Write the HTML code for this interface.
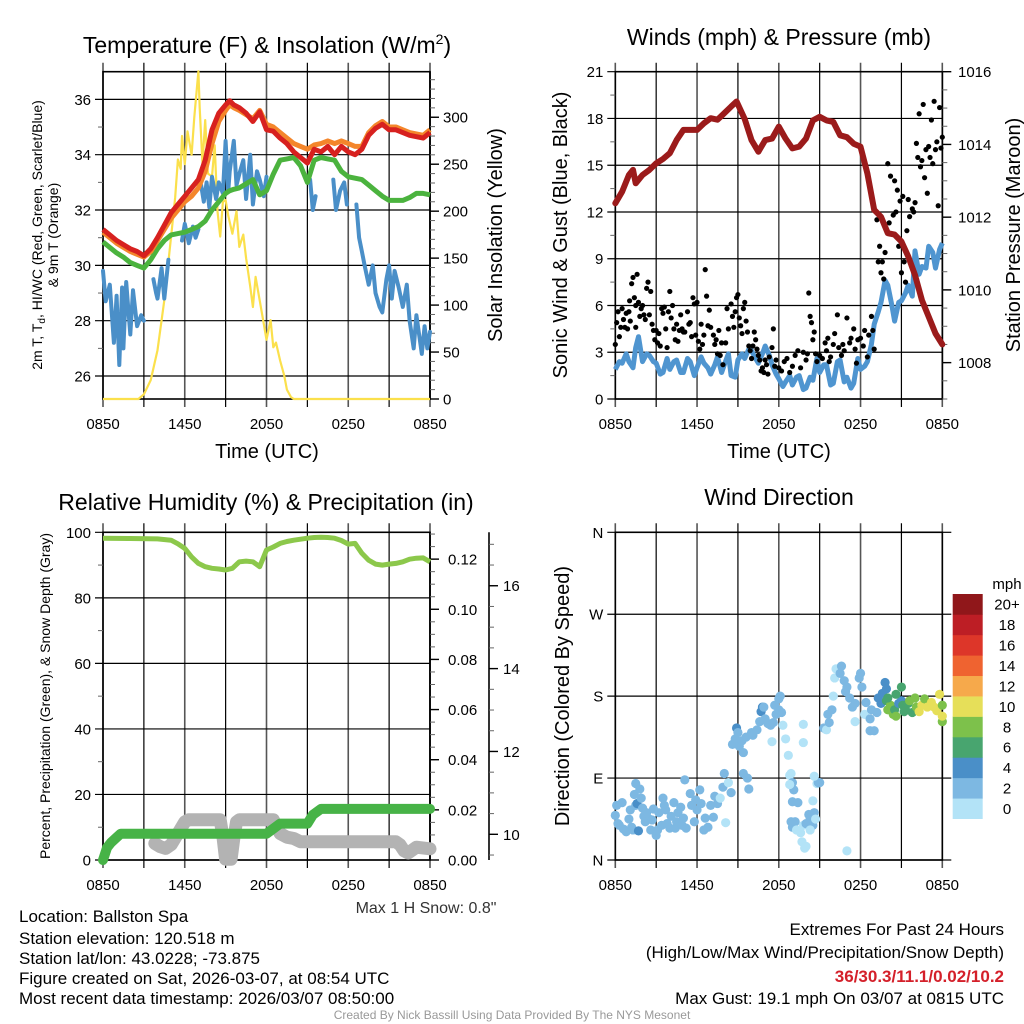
<!DOCTYPE html>
<html><head><meta charset="utf-8">
<style>
html,body{margin:0;padding:0;background:#fff;}
svg{display:block;font-family:"Liberation Sans",Arial,sans-serif;}
</style></head>
<body>
<svg id="root" width="1024" height="1024" viewBox="0 0 1024 1024" xmlns="http://www.w3.org/2000/svg">
<rect width="1024" height="1024" fill="#fff"/>
<g id="p1"></g>
<g id="p2"></g>
<g id="p3"></g>
<g id="p4"></g>

<text x="267" y="53" font-size="23" text-anchor="middle">Temperature (F) &amp; Insolation (W/m<tspan dy="-9" font-size="14">2</tspan><tspan dy="9">)</tspan></text>
<text x="779" y="45" font-size="23" text-anchor="middle">Winds (mph) &amp; Pressure (mb)</text>
<text x="266" y="510" font-size="23" text-anchor="middle">Relative Humidity (%) &amp; Precipitation (in)</text>
<text x="779" y="505" font-size="23" text-anchor="middle">Wind Direction</text>

<text x="267" y="458" font-size="20" text-anchor="middle">Time (UTC)</text>
<text x="779" y="458" font-size="20" text-anchor="middle">Time (UTC)</text>

<text transform="translate(42,235) rotate(-90)" font-size="14" text-anchor="middle">2m T, T<tspan dy="3" font-size="10">d</tspan><tspan dy="-3">, HI/WC (Red, Green, Scarlet/Blue)</tspan></text>
<text transform="translate(58,235) rotate(-90)" font-size="14" text-anchor="middle">&amp; 9m T (Orange)</text>
<text transform="translate(502,235) rotate(-90)" font-size="20" text-anchor="middle">Solar Insolation (Yellow)</text>
<text transform="translate(567,235) rotate(-90)" font-size="20" text-anchor="middle">Sonic Wind &amp; Gust (Blue, Black)</text>
<text transform="translate(1020,235) rotate(-90)" font-size="20" text-anchor="middle">Station Pressure (Maroon)</text>
<text transform="translate(50,696) rotate(-90)" font-size="14" text-anchor="middle">Percent, Precipitation (Green), &amp; Snow Depth (Gray)</text>
<text transform="translate(569,696) rotate(-90)" font-size="20" text-anchor="middle">Direction (Colored By Speed)</text>

<text x="426" y="913" font-size="16" text-anchor="middle" fill="#333">Max 1 H Snow: 0.8"</text>
<g font-size="17">
<text x="19" y="922">Location: Ballston Spa</text>
<text x="19" y="944">Station elevation: 120.518 m</text>
<text x="19" y="964">Station lat/lon: 43.0228; -73.875</text>
<text x="19" y="984">Figure created on Sat, 2026-03-07, at 08:54 UTC</text>
<text x="19" y="1004">Most recent data timestamp: 2026/03/07 08:50:00</text>
</g>
<g font-size="17" text-anchor="end">
<text x="1004" y="935">Extremes For Past 24 Hours</text>
<text x="1004" y="958">(High/Low/Max Wind/Precipitation/Snow Depth)</text>
<text x="1004" y="982" fill="#d4202a" font-weight="bold">36/30.3/11.1/0.02/10.2</text>
<text x="1004" y="1004">Max Gust: 19.1 mph On 03/07 at 0815 UTC</text>
</g>
<text x="512" y="1019" font-size="12" fill="#999" text-anchor="middle">Created By Nick Bassill Using Data Provided By The NYS Mesonet</text>
</svg>

<script>
// ---------- DATA ----------
const xTickLabels = ["0850","1450","2050","0250","0850"];
const tempTime = [0,0.5,1,1.5,2,2.5,3,3.5,4,4.5,5,5.5,6,6.5,7,7.5,8,8.5,9,9.3,9.6,10,10.5,11,11.5,12,12.5,13,13.5,14,14.5,15,15.5,16,16.5,17,17.5,18,18.5,19,19.5,20,20.5,21,21.5,22,22.5,23,23.5,24];
const tempRed = [31.3,31.1,30.9,30.75,30.6,30.5,30.35,30.6,31.0,31.45,31.9,32.2,32.5,32.8,33.1,33.8,34.9,35.5,35.8,35.95,35.8,35.7,35.5,35.2,35.55,34.9,34.85,34.6,34.4,34.1,33.9,33.7,34.2,34.1,34.3,34.0,34.3,34.1,34.0,34.2,34.7,34.95,35.1,34.9,34.9,34.8,34.7,34.65,34.6,34.8];
const tempOrange = [31.2,31.0,30.8,30.65,30.5,30.4,30.3,30.5,30.9,31.3,31.7,32.0,32.3,32.5,32.8,33.4,34.4,35.2,35.6,35.8,35.7,35.6,35.45,35.3,35.6,35.1,35.0,34.8,34.6,34.4,34.3,34.2,34.35,34.4,34.5,34.4,34.5,34.4,34.3,34.3,34.8,35.05,35.2,35.0,35.0,34.9,34.8,34.75,34.7,34.9];
const tempGreen = [30.85,30.65,30.45,30.3,30.1,30.0,29.9,30.2,30.6,30.9,31.1,31.15,31.2,31.3,31.4,31.6,32.0,32.3,32.6,32.7,32.75,32.8,32.95,33.1,32.55,32.7,33.3,33.8,33.85,33.9,33.6,33.0,33.8,33.9,33.85,33.8,33.4,33.2,33.15,33.1,32.9,32.7,32.5,32.35,32.35,32.35,32.45,32.6,32.6,32.55];
const chillTime = [0,0.2,0.5,0.8,1,1.2,1.4,1.5,1.7,2,2.2,2.5,2.8,3,null,3.7,3.9,4,4.3,4.5,4.8,null,5.8,6,6.3,6.6,6.8,7,null,7.2,7.4,7.6,7.8,8,8.3,8.5,8.8,9,9.2,9.3,9.6,9.8,10,10.3,10.5,10.8,11,11.3,11.5,11.8,12,null,15.2,15.4,15.6,null,16.9,17.1,17.4,17.7,17.9,null,18.6,18.8,19,19.2,19.5,19.8,20,20.3,20.5,20.8,21,21.2,21.4,21.7,22,22.3,22.5,22.8,23,23.2,23.4,23.6,23.8,24];
const chillVal = [29.8,28.7,29.3,27.2,28.9,26.4,29.2,27.0,29.4,27.5,29.1,27.8,28.2,28.0,null,29.5,29.0,28.8,29.9,28.8,30.2,null,30.9,31.5,30.8,31.4,31.0,31.3,null,32.9,32.3,33.0,32.1,33.2,32.4,33.0,32.6,34.5,32.7,33.4,34.5,32.9,33.3,33.8,32.4,34.0,32.2,33.4,33.1,32.5,33.2,null,33.1,32.0,32.5,null,33.1,32.0,32.7,33.0,32.2,null,32.2,31.0,30.5,30.0,29.3,30.0,29.0,28.5,28.3,29.5,30.0,28.8,29.8,29.2,28.5,29.3,28.0,27.0,28.2,27.5,26.8,27.8,27.0,27.6];
const solarTime = [0,2.6,3,3.5,4,4.5,5,5.3,5.5,5.7,5.8,6,6.2,6.5,6.7,7,7.1,7.3,7.5,7.7,8,8.2,8.4,8.6,8.8,9,9.2,9.5,9.8,10,10.3,10.5,10.8,11,11.2,11.5,11.8,12,12.3,12.5,12.7,13,13.3,13.5,13.8,14,24];
const solarVal = [0,0,5,20,52,105,173,215,255,245,280,250,285,260,300,349,310,250,297,240,237,270,200,173,210,212,195,176,200,162,175,150,120,98,130,105,80,63,84,55,60,41,25,10,2,0,0];

const windTime = [0,0.3,0.5,0.8,1,1.3,1.5,1.7,2,2.3,2.5,2.8,3,3.3,3.5,3.8,4,4.3,4.5,4.8,5,5.3,5.5,5.8,6,6.3,6.5,6.8,7,7.3,7.5,7.8,8,8.3,8.5,8.8,9,9.3,9.5,9.8,10,10.3,10.5,10.8,11,11.3,11.5,11.8,12,12.3,12.5,12.8,13,13.3,13.5,13.8,14,14.3,14.5,14.8,15,15.3,15.5,15.8,16,16.3,16.5,16.8,17,17.3,17.5,17.8,18,18.3,18.5,18.8,19,19.3,19.5,19.8,20,20.3,20.5,20.8,21,21.3,21.5,21.8,22,22.3,22.5,22.8,23,23.3,23.5,23.8,24];
const windVal = [1.9,2.4,2.3,2.9,2.4,2.0,3.3,4.0,2.4,2.9,2.8,2.4,2.3,1.6,1.7,2.6,1.9,2.4,2.5,1.7,1.7,2.6,2.4,1.5,2.0,2.7,2.3,2.0,1.6,2.2,2.7,1.7,2.2,2.9,1.5,1.4,2.5,2.9,2.6,3.2,3.1,2.6,2.3,2.9,3.4,2.8,2.2,1.6,1.3,0.8,1.1,1.5,0.9,1.4,1.5,0.6,0.7,1.4,1.2,2.6,1.7,2.2,2.2,0.9,1.0,2.4,2.5,1.1,1.4,0.7,1.0,2.6,1.9,2.1,2.4,3.5,4.8,5.6,6.2,7.6,7.3,6.0,5.0,6.2,6.3,6.8,7.3,6.6,9.5,8.0,8.5,8.4,9.8,9.4,8.4,9.6,10.0];
const presTime = [0,0.5,1,1.3,1.5,2,2.5,3,3.5,4,4.5,5,5.5,6,6.5,7,7.5,8,8.5,8.9,9.5,10,10.5,11,11.5,12,12.5,13,13.5,14,14.5,15,15.5,16,16.5,17,17.5,18,18.5,19,19.5,20,20.5,21,21.5,22,22.5,23,23.5,24];
const presVal = [1012.38,1012.7,1013.16,1013.3,1012.93,1013.16,1013.3,1013.48,1013.6,1013.76,1014.12,1014.4,1014.4,1014.4,1014.58,1014.72,1014.68,1014.86,1015.04,1015.18,1014.7,1014.12,1013.8,1014.12,1014.16,1014.49,1014.16,1013.89,1013.94,1014.16,1014.66,1014.76,1014.66,1014.62,1014.25,1014.2,1014.02,1013.94,1013.2,1012.2,1012.01,1011.56,1011.52,1011.33,1010.92,1010.41,1009.72,1009.26,1008.8,1008.5];
const gustTime = [0,0.1,0.2,0.3,0.4,0.5,0.6,0.7,0.8,0.9,1.0,1.05,1.1,1.2,1.3,1.4,1.5,1.5,1.6,1.7,1.8,1.9,2.0,2.1,2.2,2.3,2.4,2.5,2.6,2.7,2.8,2.9,3.0,3.1,3.2,3.3,3.4,3.5,3.6,3.7,3.8,3.9,4.0,4.1,4.2,4.3,4.4,4.5,4.6,4.7,4.8,4.9,5.0,5.1,5.3,5.4,5.5,5.6,5.7,5.8,5.9,6.0,6.1,6.2,6.3,6.4,6.5,6.6,6.7,6.8,6.9,7.0,7.2,7.3,7.4,7.5,7.6,7.7,7.8,7.9,8.1,8.2,8.3,8.5,8.6,8.7,8.8,8.9,9.0,9.1,9.2,9.3,9.4,9.5,9.6,9.7,9.8,9.9,10.0,10.1,10.2,10.3,10.4,10.5,10.6,10.7,10.8,10.9,11.0,11.1,11.2,11.3,11.5,11.6,11.7,11.8,12.0,12.2,12.4,12.6,12.8,13.0,13.2,13.4,13.6,13.8,14.0,14.1,14.2,14.3,14.4,14.5,14.6,14.7,14.8,15.0,15.2,15.4,15.5,15.6,15.7,15.8,16.0,16.1,16.3,16.4,16.6,16.7,16.8,17.0,17.2,17.3,17.5,17.6,17.7,17.8,18.0,18.2,18.3,18.5,18.6,18.8,18.9,19.0,19.2,19.3,19.4,19.5,19.6,19.7,19.8,20.0,20.1,20.2,20.4,20.5,20.6,20.7,20.8,20.9,21.0,21.1,21.2,21.3,21.4,21.5,21.6,21.8,21.9,22.0,22.1,22.2,22.3,22.4,22.5,22.6,22.7,22.8,22.9,23.0,23.1,23.2,23.3,23.4,23.5,23.6,23.7,23.8,23.9,24.0];
const gustVal = [3.5,4.9,5.6,4.0,4.6,5.8,5.1,4.6,5.5,4.5,5.6,6.3,5.0,7.4,7.8,6.5,6.0,4.6,8.0,6.2,5.3,5.8,6.0,5.4,5.1,7.1,7.5,5.4,6.9,4.8,4.4,3.8,4.4,3.6,4.2,3.4,5.8,5.5,5.9,4.5,3.3,5.6,6.9,5.2,6.0,4.5,3.8,4.8,3.7,4.4,5.4,4.5,4.3,4.3,5.6,4.8,4.9,4.0,6.5,6.1,4.1,6.2,3.7,3.2,4.8,3.5,4.1,8.3,6.6,4.7,5.7,4.6,4.1,3.5,3.8,2.9,4.4,2.8,3.6,2.2,3.6,5.8,4.5,6.1,5.3,4.6,5.6,6.5,6.7,5.2,4.7,4.2,5.8,6.2,5.0,4.3,3.4,3.1,2.6,3.4,4.3,3.8,3.2,2.8,2.5,1.8,2.0,1.7,2.5,2.2,1.6,2.7,3.3,4.5,2.1,2.5,2.0,1.8,2.4,2.6,1.7,2.1,2.8,3.1,2.0,3.0,2.5,2.9,6.8,5.3,4.9,3.8,4.3,2.9,2.4,2.8,2.6,3.6,3.1,3.9,2.4,2.7,3.5,4.2,5.4,3.3,2.8,3.5,3.1,5.2,3.6,3.9,4.5,3.2,2.3,3.8,3.9,3.4,4.4,2.7,4.1,5.3,4.4,3.2,11.5,8.8,9.8,8.1,8.8,7.7,9.4,15.1,11.3,14.3,11.8,14.0,12.0,13.4,9.8,12.7,8.1,13.0,8.8,7.5,10.8,12.8,11.7,12.2,12.0,12.6,16.4,15.5,18.3,14.9,15.3,18.9,14.2,16.0,13.2,16.2,15.5,17.9,15.1,19.1,16.0,16.5,12.4,18.7,16.1,16.8];

const rhTime = [0,2,4,5,5.5,6,6.5,7,7.5,8,8.5,9,9.5,10,10.5,11,11.5,12,12.5,13,13.5,14,14.5,15,15.5,16,16.5,17,17.5,18,18.5,19,19.5,20,20.5,21,21.5,22,22.5,23,23.5,24];
const rhVal = [98.2,98.1,98.0,97.6,96.5,95.1,92.5,90.5,89.5,89.0,88.8,88.5,89.0,91.0,91.2,91.0,89.5,94.6,95.5,96.6,97.2,97.6,97.9,98.2,98.4,98.5,98.4,98.2,97.5,96.4,96.6,93.6,91.5,90.3,90.0,90.3,90.5,91.0,91.8,92.1,92.2,91.0];
const precipTime = [0,0.3,0.6,1.0,1.3,12.0,12.5,13.0,15.0,15.4,16.0,24];
const precipVal = [0,0.005,0.007,0.009,0.0105,0.0105,0.0125,0.0145,0.0145,0.018,0.0204,0.0204];
const snowTime = [3.8,4.2,4.6,5.0,5.5,6.0,6.3,8.6,8.8,9.0,9.4,9.6,9.8,10.0,12.5,13.0,13.5,14.0,14.5,15.0,21.5,21.8,22.1,22.4,23.0,24];
const snowVal = [9.78,9.7,9.66,9.75,10.02,10.3,10.35,10.35,9.95,9.4,9.4,9.9,10.3,10.35,10.35,10.02,9.93,9.9,9.82,9.82,9.82,9.75,9.6,9.55,9.69,9.65];

const dirTime = [0.0,0.1,0.2,0.3,0.5,0.6,0.8,1.0,1.1,1.2,1.4,1.5,1.3,1.6,1.7,1.5,1.8,1.9,2.0,2.1,2.2,2.3,2.5,2.6,2.7,2.8,3.0,3.1,3.2,3.4,3.5,3.6,3.7,3.8,4.0,4.1,4.3,4.4,4.5,4.6,4.8,4.9,5.0,5.1,5.2,5.5,5.6,5.8,5.9,6.0,6.2,6.3,6.5,6.6,6.8,7.0,7.2,7.3,7.5,7.7,7.9,8.0,8.1,8.3,8.5,8.6,8.8,8.9,9.0,9.1,9.3,9.4,9.4,9.6,9.7,9.8,10.0,10.1,10.4,10.6,10.7,10.8,11.0,10.9,11.2,11.4,11.5,11.8,12.0,12.0,12.1,12.2,11.6,11.7,12.3,12.5,12.7,12.8,12.9,13.0,13.1,12.8,13.0,13.4,13.8,13.8,12.9,13.0,13.2,13.3,13.6,13.7,13.8,14.0,14.2,14.3,14.5,14.6,14.7,14.8,14.9,15.0,14.3,14.0,13.9,14.5,14.6,15.3,15.5,15.6,15.7,15.9,16.0,16.1,16.2,16.4,16.5,16.6,16.8,17.0,16.9,17.2,17.4,17.6,17.6,17.9,18.0,18.1,17.0,18.3,18.4,18.7,18.8,18.7,19.0,19.2,19.3,19.5,19.6,19.8,19.9,19.9,20.0,20.2,20.4,20.5,20.6,20.8,21.0,21.1,21.2,21.3,21.5,21.6,21.8,22.0,22.1,22.3,22.5,22.7,22.9,23.2,23.4,23.6,23.8,24.0,24.0,24.0,21.0,20.6,20.0];
const dirVal = [49,60,40,38,63,34,31,45,55,36,72,60,33,62,32,84,78,68,57,48,42,52,45,33,44,56,27,33,52,38,68,60,55,40,35,48,63,35,42,52,58,38,46,88,35,73,60,42,66,55,77,62,33,46,36,60,47,70,62,68,80,95,41,85,74,127,133,145,140,125,131,118,95,135,90,78,140,137,143,152,163,168,155,168,150,148,130,160,177,165,180,162,151,170,148,133,115,93,95,85,77,83,64,63,149,129,42,36,42,33,30,20,38,40,50,46,38,52,45,84,85,85,33,15,13,65,92,145,143,160,151,165,180,200,210,210,205,213,197,190,185,178,168,152,172,200,205,190,10,160,173,155,165,142,142,162,178,172,183,195,188,175,165,170,160,165,158,172,175,170,163,165,172,175,162,178,168,163,170,177,168,173,168,164,182,170,152,158,190,182,178];
const dirSpeed = [2,2,2,2,2,2,2,2,2,3,2,3,3,4,4,2,2,2,2,2,2,2,2,2,2,2,2,2,2,2,2,2,2,2,2,2,2,2,2,2,2,2,2,3,2,2,2,2,2,2,2,2,2,2,2,2,2,2,2,1,2,2,1,1,2,2,2,4,3,2,2,2,2,2,3,3,2,2,2,3,4,4,3,3,2,2,1,2,2,2,3,2,3,2,1,1,1,1,1,2,2,1,2,2,1,1,2,2,2,1,1,1,1,2,2,3,2,2,1,1,2,2,1,1,1,1,1,2,1,2,2,2,1,1,1,1,2,2,2,2,2,2,2,1,2,2,2,2,1,1,2,2,2,2,2,2,4,4,4,4,4,6,8,8,8,6,8,4,4,6,6,6,6,8,6,8,8,10,10,8,10,10,10,10,10,8,8,10,6,6,6];
const cbLabels = ["0","2","4","6","8","10","12","14","16","18","20+"];
const cbColors = ["#b3e3f7","#7db8e2","#4a8fc8","#48a56f","#7dc14b","#e6df59","#f6a94b","#ef6330","#dd3629","#bd1e25","#90171a"];

// ---------- HELPERS ----------
const NS = "http://www.w3.org/2000/svg";
function mk(parent, tag, attrs, name){
  const el = document.createElementNS(NS, tag);
  for (const k in attrs) el.setAttribute(k, attrs[k]);
  
  
  parent.appendChild(el);
  return el;
}
function lin(d0,d1,r0,r1){ return v => r0 + (v-d0)/(d1-d0)*(r1-r0); }
function pathD(ts, vs, sx, sy){
  let d = "", pen = false;
  for (let i=0;i<ts.length;i++){
    if (ts[i]===null || vs[i]===null){ pen=false; continue; }
    d += (pen?"L":"M") + sx(ts[i]).toFixed(1) + "," + sy(vs[i]).toFixed(1);
    pen = true;
  }
  return d;
}
function frame(g, L, R, T, B, pre, hGridY){
  const grid = mk(g,'g',{stroke:'#000','stroke-width':1.2}, pre+'-grid');
  for (let i=0;i<=8;i++){
    const x = L + i*(R-L)/8;
    mk(grid,'line',{x1:x,x2:x,y1:T-9,y2:B+8,stroke:(i%2? '#000':'#555'),'stroke-width':(i%2?1.2:1.6)}, pre+'-vgrid');
  }
  hGridY.forEach(y => mk(grid,'line',{x1:L-8,x2:R,y1:y,y2:y}, pre+'-hgrid'));
  mk(g,'rect',{x:L,y:T,width:R-L,height:B-T,fill:'none',stroke:'#000','stroke-width':1.6}, pre+'-frame');
  const xl = mk(g,'g',{'font-size':15,'text-anchor':'middle'}, pre+'-x-tick-labels');
  xTickLabels.forEach((s,i)=>{
    const t = mk(xl,'text',{x:L+i*(R-L)/4, y:B+30}, pre+'-x-tick-label');
    t.textContent = s;
  });
}
function rightAxis(g, X, T, B, sy, majors, minorStep, lo, hi, fmt, pre, lblX){
  mk(g,'line',{x1:X,x2:X,y1:T,y2:B,stroke:'#000','stroke-width':1.6}, pre+'-axis-line');
  for (let v=lo; v<=hi+1e-9; v+=minorStep){
    const y = sy(v); if (y<T-0.5||y>B+0.5) continue;
    mk(g,'line',{x1:X,x2:X+5,y1:y,y2:y,stroke:'#666','stroke-width':1}, pre+'-minor-tick');
  }
  const lab = mk(g,'g',{'font-size':15}, pre+'-tick-labels');
  majors.forEach(v=>{
    const y = sy(v);
    mk(g,'line',{x1:X,x2:X+9,y1:y,y2:y,stroke:'#000','stroke-width':1.4}, pre+'-major-tick');
    const t = mk(lab,'text',{x:lblX, y:y+5.5}, pre+'-tick-label');
    t.textContent = fmt(v);
  });
}
function leftLabels(g, L, ys, labels, pre){
  const lab = mk(g,'g',{'font-size':15,'text-anchor':'end'}, pre+'-y-tick-labels');
  ys.forEach((y,i)=>{
    const t = mk(lab,'text',{x:L-12, y:y+5.5}, pre+'-y-tick-label');
    t.textContent = labels[i];
  });
}

// ---------- PANEL 1 ----------
(function(){
  const g = document.getElementById('p1');
  const L=103,R=430,T=71.7,B=399;
  const sx = lin(0,24,L,R), sy = lin(25.17,37,B,T), sr = lin(0,348.5,B,T);
  const tv=[26,28,30,32,34,36];
  frame(g,L,R,T,B,'p1',tv.map(sy));
  [27,29,31,33,35].forEach(v=>mk(g,'line',{x1:L-5,x2:L,y1:sy(v),y2:sy(v),stroke:'#666'},'p1-minor-tick'));
  leftLabels(g,L,tv.map(sy),tv.map(String),'p1');
  rightAxis(g,R,T,B,sr,[0,50,100,150,200,250,300],10,0,340,v=>String(v),'p1-right',443);
  mk(g,'path',{d:pathD(solarTime,solarVal,sx,sr),fill:'none',stroke:'#fbe04c','stroke-width':2.2,'stroke-linejoin':'round'},'solar-insolation-line');
  mk(g,'path',{d:pathD(chillTime,chillVal,sx,sy),fill:'none',stroke:'#4a8fc8','stroke-width':4,'stroke-linejoin':'round','stroke-linecap':'round'},'wind-chill-line');
  mk(g,'path',{d:pathD(tempTime,tempGreen,sx,sy),fill:'none',stroke:'#4bb33e','stroke-width':5,'stroke-linejoin':'round'},'dewpoint-line');
  mk(g,'path',{d:pathD(tempTime,tempOrange,sx,sy),fill:'none',stroke:'#f4862b','stroke-width':5,'stroke-linejoin':'round'},'temp-9m-line');
  mk(g,'path',{d:pathD(tempTime,tempRed,sx,sy),fill:'none',stroke:'#d7211f','stroke-width':5,'stroke-linejoin':'round'},'temp-2m-line');
})();

// ---------- PANEL 2 ----------
(function(){
  const g = document.getElementById('p2');
  const L=615.3,R=942.3,T=71.7,B=399;
  const sx = lin(0,24,L,R), sy = lin(0,21,B,T), sp = lin(1007,1016,B,T);
  const tv=[0,3,6,9,12,15,18,21];
  frame(g,L,R,T,B,'p2',tv.map(sy));
  [1.5,4.5,7.5,10.5,13.5,16.5,19.5].forEach(v=>mk(g,'line',{x1:L-5,x2:L,y1:sy(v),y2:sy(v),stroke:'#666'},'p2-minor-tick'));
  leftLabels(g,L,tv.map(sy),tv.map(String),'p2');
  rightAxis(g,R,T,B,sp,[1008,1010,1012,1014,1016],0.5,1007,1016,v=>String(v),'p2-right',958);
  mk(g,'path',{d:pathD(windTime,windVal,sx,sy),fill:'none',stroke:'#4f95d0','stroke-width':5,'stroke-linejoin':'round'},'sonic-wind-line');
  const gd = mk(g,'g',{fill:'#000'},'gust-points');
  for (let i=0;i<gustTime.length;i++){
    mk(gd,'circle',{cx:sx(gustTime[i]),cy:sy(gustVal[i]),r:2.6},'gust-point');
  }
  mk(g,'path',{d:pathD(presTime,presVal,sx,sp),fill:'none',stroke:'#9b1b1b','stroke-width':6,'stroke-linejoin':'round','stroke-linecap':'round'},'pressure-line');
})();

// ---------- PANEL 3 ----------
(function(){
  const g = document.getElementById('p3');
  const L=103,R=430,T=532.3,B=860;
  const sx = lin(0,24,L,R), sy = lin(0,100,B,T), spr = lin(0,0.1307,B,T), ssn = lin(9.38,17.29,B,T);
  const tv=[0,20,40,60,80,100];
  frame(g,L,R,T,B,'p3',tv.map(sy));
  [10,30,50,70,90].forEach(v=>mk(g,'line',{x1:L-5,x2:L,y1:sy(v),y2:sy(v),stroke:'#666'},'p3-minor-tick'));
  leftLabels(g,L,tv.map(sy),tv.map(String),'p3');
  rightAxis(g,R,T,B,spr,[0,0.02,0.04,0.06,0.08,0.10,0.12],0.005,0,0.13,v=>v.toFixed(2),'p3-right',448);
  rightAxis(g,489,T,B,ssn,[10,12,14,16],0.5,9.5,17,v=>String(v),'p3-snow',503);
  mk(g,'path',{d:pathD(snowTime,snowVal,sx,ssn),fill:'none',stroke:'#b3b3b3','stroke-width':13,'stroke-linejoin':'round','stroke-linecap':'round'},'snow-depth-line');
  mk(g,'path',{d:pathD(precipTime,precipVal,sx,spr),fill:'none',stroke:'#47b347','stroke-width':10,'stroke-linejoin':'round','stroke-linecap':'round'},'precipitation-line');
  mk(g,'path',{d:pathD(rhTime,rhVal,sx,sy),fill:'none',stroke:'#8cc84b','stroke-width':5,'stroke-linejoin':'round'},'relative-humidity-line');
})();

// ---------- PANEL 4 ----------
(function(){
  const g = document.getElementById('p4');
  const L=615.3,R=942.3,T=532.3,B=860;
  const sx = lin(0,24,L,R), sy = lin(0,360,B,T);
  const tv=[0,90,180,270,360], tl=["N","E","S","W","N"];
  frame(g,L,R,T,B,'p4',tv.map(sy));
  tv.forEach((v,i)=>{ mk(g,'line',{x1:R,x2:R+9,y1:sy(v),y2:sy(v),stroke:'#000','stroke-width':1.2},'p4-right-tick'); });
  leftLabels(g,L,tv.map(sy),tl,'p4');
  const dots = mk(g,'g',{},'direction-points');
  for (let i=0;i<dirTime.length;i++){
    const bin = Math.min(10, Math.floor(dirSpeed[i]/2));
    mk(dots,'circle',{cx:sx(dirTime[i]),cy:sy(dirVal[i]),r:4.6,fill:cbColors[bin]},'direction-point');
  }
  const cb = mk(g,'g',{},'speed-colorbar');
  const cx=952.7, cw=30, cTop=594, cBot=818.7, h=(cBot-cTop)/cbColors.length;
  cbColors.forEach((c,i)=>{
    mk(cb,'rect',{x:cx,y:cBot-(i+1)*h,width:cw,height:h+0.3,fill:c},'colorbar-box');
    const t = mk(cb,'text',{x:1007,y:cBot-(i+0.5)*h+5.5,'font-size':15,'text-anchor':'middle'},'colorbar-label');
    t.textContent = cbLabels[i];
  });
  const u = mk(cb,'text',{x:1007,y:589,'font-size':15,'text-anchor':'middle'},'colorbar-unit');
  u.textContent = "mph";
})();
</script>
</body></html>
